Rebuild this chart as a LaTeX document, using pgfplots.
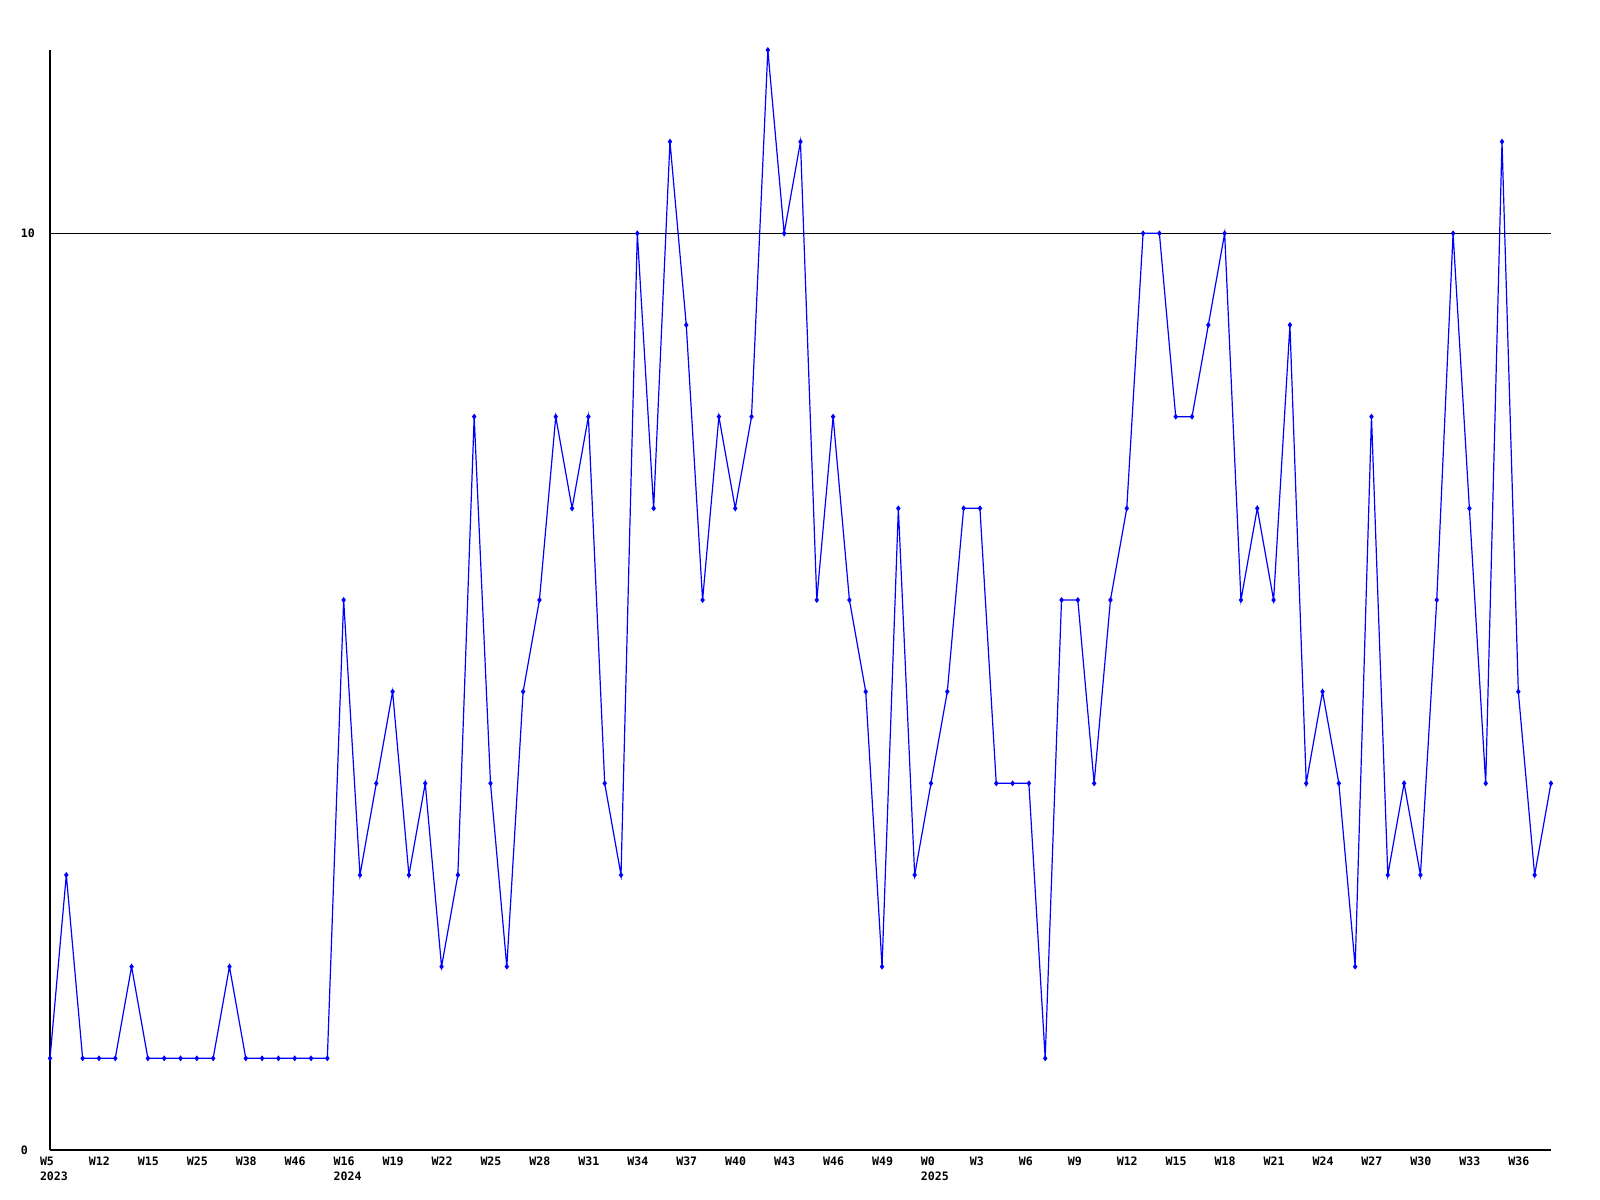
\documentclass[border=0pt]{standalone}
\usepackage{fontspec}
\setmainfont{DejaVu Sans Mono}
\usepackage{pgfplots}
\pgfplotsset{compat=1.18}

\pgfplotstableread{
i v
0 1
1 3
2 1
3 1
4 1
5 2
6 1
7 1
8 1
9 1
10 1
11 2
12 1
13 1
14 1
15 1
16 1
17 1
18 6
19 3
20 4
21 5
22 3
23 4
24 2
25 3
26 8
27 4
28 2
29 5
30 6
31 8
32 7
33 8
34 4
35 3
36 10
37 7
38 11
39 9
40 6
41 8
42 7
43 8
44 12
45 10
46 11
47 6
48 8
49 6
50 5
51 2
52 7
53 3
54 4
55 5
56 7
57 7
58 4
59 4
60 4
61 1
62 6
63 6
64 4
65 6
66 7
67 10
68 10
69 8
70 8
71 9
72 10
73 6
74 7
75 6
76 9
77 4
78 5
79 4
80 2
81 8
82 3
83 4
84 3
85 6
86 10
87 7
88 4
89 11
90 5
91 3
92 4
}\counts

\begin{document}
\begin{tikzpicture}
\path[use as bounding box, fill=white] (0,0) rectangle (400pt,300pt);
\begin{axis}[
    at={(12.5pt,12.5pt)}, anchor=south west,
    scale only axis,
    width=375.25pt, height=275pt,
    xmin=0, xmax=92, ymin=0, ymax=12,
    axis x line=bottom, axis y line=left,
    axis line style={-, black, line width=0.3pt},
    major tick length=0pt,
    ytick={0,10}, yticklabels={0,10},
    ymajorgrids, grid style={black, line width=0.3pt},
    xtick={0,3,...,90},
    xticklabels={W5\\2023,W12,W15,W25,W38,W46,W16\\2024,W19,W22,W25,W28,W31,W34,W37,W40,W43,W46,W49,W0\\2025,W3,W6,W9,W12,W15,W18,W21,W24,W27,W30,W33,W36},
    every tick label/.append style={font=\fontsize{2.9pt}{3.75pt}\selectfont\bfseries},
    xticklabel style={align=left, anchor=north west, inner sep=0pt, xshift=-2.7pt, yshift=-1.6pt},
    yticklabel style={anchor=west, inner sep=0pt, xshift=-7.5pt},
    clip=false,
]
\addplot[color={rgb,255:red,0;green,0;blue,255}, line width=0.3pt, mark=diamond*, mark size=0.5pt] table[x=i, y=v] {\counts};
\end{axis}
\end{tikzpicture}
\end{document}
